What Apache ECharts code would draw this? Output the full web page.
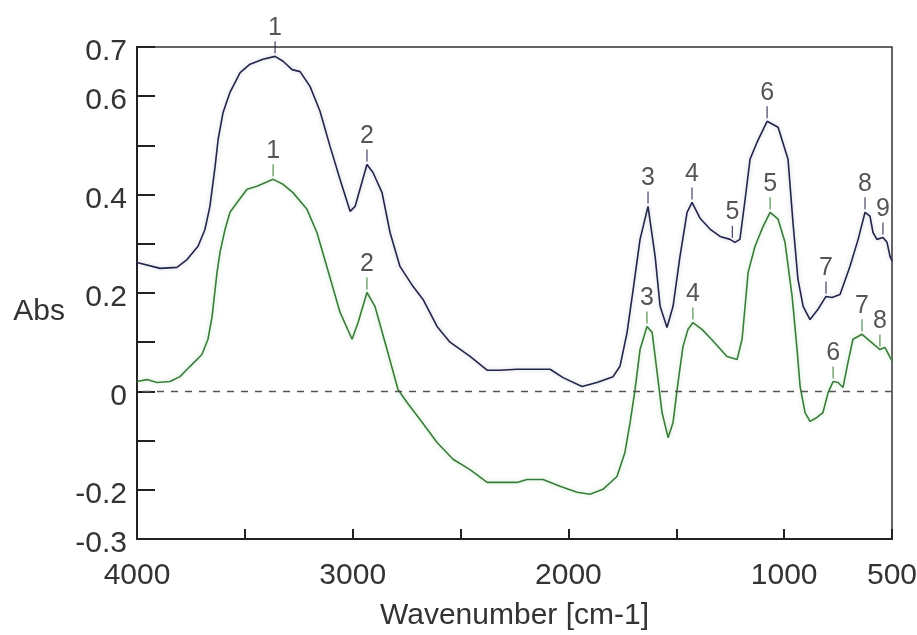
<!DOCTYPE html>
<html>
<head>
<meta charset="utf-8">
<script src="https://cdn.jsdelivr.net/npm/echarts@6/dist/echarts.min.js"></script>
<style>
  html, body { margin: 0; padding: 0; background: #fff; }
  #chart { width: 917px; height: 635px; }
</style>
</head>
<body>
<div id="chart"></div>
<script>
// upper spectrum (dark)
var darkWave = [4000, 3893, 3815, 3768, 3717, 3685, 3662, 3638, 3624, 3601, 3569, 3522, 3476, 3416, 3360, 3323, 3281, 3244, 3198, 3152, 3105, 3059, 3012, 2989, 2934, 2906, 2864, 2827, 2781, 2720, 2674, 2609, 2549, 2456, 2377, 2317, 2238, 2085, 2025, 1937, 1868, 1793, 1761, 1728, 1700, 1668, 1631, 1598, 1575, 1543, 1515, 1483, 1450, 1427, 1390, 1344, 1297, 1251, 1228, 1205, 1181, 1158, 1126, 1079, 1028, 982, 959, 936, 912, 880, 843, 806, 778, 741, 695, 657, 625, 602, 588, 570, 542, 523, 509, 500];
var darkAbs = [0.262, 0.250, 0.252, 0.268, 0.295, 0.329, 0.376, 0.457, 0.512, 0.567, 0.608, 0.648, 0.665, 0.675, 0.681, 0.671, 0.654, 0.650, 0.620, 0.570, 0.498, 0.431, 0.366, 0.376, 0.461, 0.445, 0.404, 0.323, 0.254, 0.213, 0.187, 0.132, 0.100, 0.071, 0.043, 0.043, 0.045, 0.045, 0.028, 0.010, 0.018, 0.030, 0.051, 0.120, 0.207, 0.309, 0.376, 0.274, 0.173, 0.130, 0.173, 0.274, 0.364, 0.384, 0.352, 0.330, 0.315, 0.309, 0.303, 0.309, 0.390, 0.472, 0.506, 0.549, 0.537, 0.472, 0.343, 0.228, 0.173, 0.146, 0.167, 0.193, 0.191, 0.197, 0.254, 0.309, 0.364, 0.356, 0.323, 0.309, 0.313, 0.303, 0.274, 0.265];

// lower spectrum (green)
var greenWave = [4000, 3954, 3907, 3847, 3801, 3754, 3699, 3671, 3652, 3629, 3615, 3592, 3569, 3536, 3490, 3444, 3369, 3323, 3277, 3212, 3166, 3105, 3059, 3003, 2975, 2934, 2897, 2841, 2790, 2749, 2688, 2609, 2535, 2456, 2377, 2303, 2238, 2192, 2118, 2039, 1960, 1900, 1840, 1775, 1738, 1714, 1691, 1668, 1636, 1612, 1589, 1566, 1538, 1515, 1492, 1469, 1446, 1423, 1381, 1337, 1265, 1218, 1195, 1181, 1167, 1135, 1098, 1065, 1028, 996, 963, 940, 926, 903, 880, 848, 820, 796, 773, 750, 727, 704, 681, 639, 602, 556, 532, 509, 500];
var greenAbs = [0.020, 0.024, 0.018, 0.020, 0.030, 0.051, 0.075, 0.106, 0.152, 0.242, 0.283, 0.329, 0.364, 0.384, 0.411, 0.417, 0.431, 0.421, 0.404, 0.370, 0.323, 0.231, 0.161, 0.106, 0.140, 0.201, 0.173, 0.085, 0.004, -0.022, -0.057, -0.104, -0.138, -0.159, -0.185, -0.185, -0.185, -0.179, -0.179, -0.193, -0.205, -0.209, -0.199, -0.173, -0.124, -0.063, 0.004, 0.085, 0.132, 0.120, 0.039, -0.043, -0.094, -0.063, 0.018, 0.091, 0.126, 0.140, 0.126, 0.106, 0.071, 0.065, 0.106, 0.173, 0.242, 0.295, 0.335, 0.364, 0.350, 0.303, 0.193, 0.085, 0.010, -0.043, -0.061, -0.053, -0.043, -0.002, 0.020, 0.018, 0.008, 0.059, 0.106, 0.116, 0.102, 0.085, 0.089, 0.069, 0.062];

// marked peaks
var darkPeakWave = [3360, 2934, 1631, 1427, 1240, 1079, 806, 625, 542];
var darkPeakAbs = [0.681, 0.461, 0.376, 0.384, 0.306, 0.549, 0.193, 0.364, 0.313];
var darkPeakLabels = ['1', '2', '3', '4', '5', '6', '7', '8', '9'];
var greenPeakWave = [3369, 2934, 1636, 1423, 1065, 773, 639, 556];
var greenPeakAbs = [0.431, 0.201, 0.132, 0.140, 0.364, 0.020, 0.116, 0.085];
var greenPeakLabels = ['1', '2', '3', '4', '5', '6', '7', '8'];

var xLabelsShown = [4000, 3000, 2000, 1000, 500];
var yLabelsShown = [0.7, 0.6, 0.4, 0.2, 0, -0.2, -0.3];

var FONT = "'Liberation Sans', Arial, sans-serif";
var DARK = '#22264a';
var GREEN = '#3a7d3a';

function pairs(xs, ys, labels) {
  return xs.map(function (x, i) {
    return labels ? [x, ys[i], labels[i]] : [x, ys[i]];
  });
}

function peakSeries(xs, ys, labels, color) {
  return {
    type: 'scatter',
    data: pairs(xs, ys, labels),
    symbol: 'rect',
    symbolSize: [1.3, 12],
    symbolOffset: [0, -9],
    itemStyle: { color: color },
    label: {
      show: true,
      position: 'top',
      distance: 1,
      formatter: function (p) { return p.value[2]; },
      fontFamily: FONT,
      fontSize: 25,
      color: '#2a2a2a'
    },
    z: 5,
    silent: true
  };
}

var chart = echarts.init(document.getElementById('chart'));
chart.setOption({
  backgroundColor: '#fff',
  animation: false,
  grid: {
    left: 137, right: 25, top: 47, bottom: 96,
    show: true, borderColor: '#333', borderWidth: 1.5,
    outerBoundsMode: 'none'
  },
  xAxis: {
    type: 'value',
    inverse: true,
    min: 500, max: 4000, interval: 500,
    name: 'Wavenumber [cm-1]',
    nameLocation: 'middle',
    nameGap: 62,
    nameTextStyle: { fontFamily: FONT, fontSize: 30, color: '#333' },
    axisLine: { onZero: false, lineStyle: { color: '#222', width: 2 } },
    axisTick: { inside: true, length: 10, lineStyle: { color: '#222', width: 2 } },
    axisLabel: {
      fontFamily: FONT, fontSize: 30, color: '#333', margin: 22,
      showMinLabel: true, showMaxLabel: true,
      formatter: function (v) { return xLabelsShown.indexOf(v) >= 0 ? String(v) : ''; }
    },
    splitLine: { show: false }
  },
  yAxis: {
    type: 'value',
    min: -0.3, max: 0.7, interval: 0.1,
    name: 'Abs',
    nameLocation: 'middle',
    nameRotate: 0,
    nameGap: 72,
    nameTextStyle: { fontFamily: FONT, fontSize: 30, color: '#333', verticalAlign: 'top', padding: [4, 0, 0, 0] },
    axisLine: { show: true, onZero: false, lineStyle: { color: '#222', width: 2 } },
    axisTick: { show: true, inside: true, length: 18, lineStyle: { color: '#222', width: 2 } },
    axisLabel: {
      fontFamily: FONT, fontSize: 30, color: '#333', margin: 10,
      showMinLabel: true, showMaxLabel: true,
      verticalAlign: 'top',
      lineHeight: 10,
      formatter: function (v) {
        var r = Math.round(v * 10) / 10;
        for (var i = 0; i < yLabelsShown.length; i++) {
          if (Math.abs(yLabelsShown[i] - r) < 1e-9) return String(r);
        }
        return '';
      }
    },
    splitLine: { show: false }
  },
  series: [
    {
      type: 'line',
      data: pairs(darkWave, darkAbs),
      showSymbol: false,
      lineStyle: { color: DARK, width: 1.6, shadowColor: 'rgba(60,60,120,0.25)', shadowBlur: 4 },
      markLine: {
        silent: true,
        symbol: 'none',
        label: { show: false },
        lineStyle: { color: '#555', width: 1.3, type: [7, 7] },
        data: [{ yAxis: 0 }]
      },
      z: 3
    },
    {
      type: 'line',
      data: pairs(greenWave, greenAbs),
      showSymbol: false,
      lineStyle: { color: GREEN, width: 1.6, shadowColor: 'rgba(120,200,120,0.45)', shadowBlur: 5 },
      z: 3
    },
    peakSeries(darkPeakWave, darkPeakAbs, darkPeakLabels, DARK),
    peakSeries(greenPeakWave, greenPeakAbs, greenPeakLabels, GREEN)
  ]
});
</script>
</body>
</html>
